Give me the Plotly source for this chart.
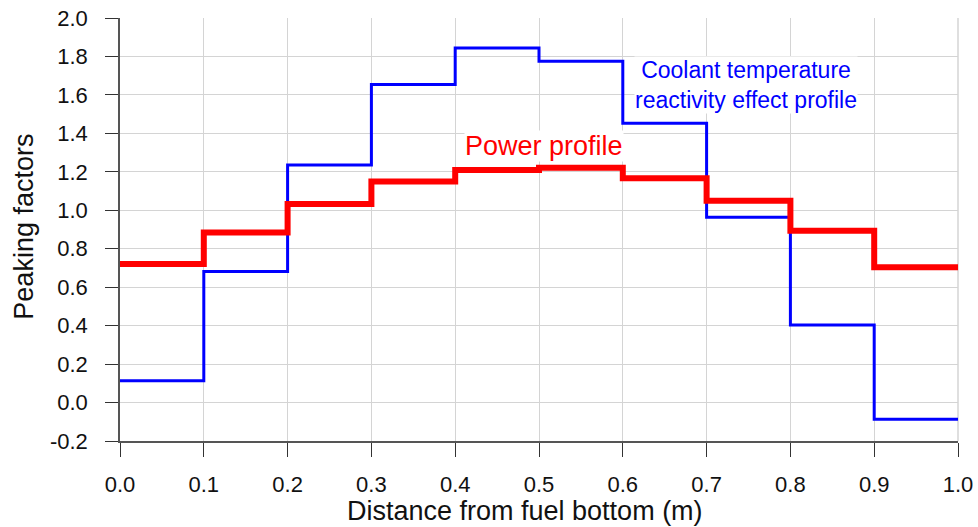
import plotly.graph_objects as go

# Axial node boundaries (m) and per-node peaking factors
node_edges = [0.0, 0.1, 0.2, 0.3, 0.4, 0.5, 0.6, 0.7, 0.8, 0.9, 1.0]
power_profile = [0.72, 0.884, 1.033, 1.149, 1.209, 1.221, 1.166, 1.05, 0.894, 0.704]
coolant_profile = [0.114, 0.681, 1.235, 1.654, 1.844, 1.775, 1.453, 0.964, 0.403, -0.087]

x_ticks = [0.0, 0.1, 0.2, 0.3, 0.4, 0.5, 0.6, 0.7, 0.8, 0.9, 1.0]
y_ticks = [-0.2, 0.0, 0.2, 0.4, 0.6, 0.8, 1.0, 1.2, 1.4, 1.6, 1.8, 2.0]

FONT = "Liberation Sans, Arial, sans-serif"

fig = go.Figure()
fig.add_trace(go.Scatter(
    x=node_edges, y=coolant_profile + [coolant_profile[-1]],
    mode="lines", line=dict(shape="hv", color="#0000ff", width=3),
    showlegend=False,
))
fig.add_trace(go.Scatter(
    x=node_edges, y=power_profile + [power_profile[-1]],
    mode="lines", line=dict(shape="hv", color="#ff0000", width=6),
    showlegend=False,
))

fig.add_annotation(
    x=0.5054, y=1.335, xref="x", yref="y", text="Power profile",
    showarrow=False, font=dict(family=FONT, size=27, color="#ff0000"),
    bgcolor="white", borderpad=0,
)
fig.add_annotation(
    x=0.7476, y=1.65, xref="x", yref="y",
    text="Coolant temperature<br>reactivity effect profile",
    showarrow=False, align="center",
    font=dict(family=FONT, size=23, color="#0000ff"),
    bgcolor="white", borderpad=0,
)

# Axis titles
fig.add_annotation(
    x=(525 - 120) / 838, y=-0.165, xref="paper", yref="paper",
    text="Distance from fuel bottom (m)", showarrow=False,
    font=dict(family=FONT, size=27, color="#111111"), yanchor="middle",
)
fig.add_annotation(
    x=(24 - 120) / 838, y=(441 - 226.5) / 423.3, xref="paper", yref="paper",
    text="Peaking factors", showarrow=False, textangle=-90,
    font=dict(family=FONT, size=27, color="#111111"),
    xanchor="center", yanchor="middle",
)

fig.update_xaxes(
    range=[0, 1.0], tickvals=x_ticks, ticktext=[f"{v:.1f}" for v in x_ticks],
    ticks="outside", ticklen=14, tickcolor="#333333", tickwidth=1,
    showgrid=True, gridcolor="#d4d4d4", gridwidth=1,
    showline=True, linecolor="#555555", linewidth=1.5,
    tickfont=dict(family=FONT, size=22, color="#111111"),
    ticklabelstandoff=9, zeroline=False, mirror=False, automargin=False,
)
fig.update_yaxes(
    range=[-0.2, 2.0], tickvals=y_ticks, ticktext=[f"{v:.1f}" for v in y_ticks],
    ticks="outside", ticklen=13, tickcolor="#333333", tickwidth=1,
    showgrid=True, gridcolor="#d4d4d4", gridwidth=1,
    showline=True, linecolor="#555555", linewidth=1.5,
    tickfont=dict(family=FONT, size=22, color="#111111"),
    ticklabelstandoff=13, zeroline=False, automargin=False,
)

fig.add_shape(type="line", xref="paper", yref="paper", x0=1, x1=1, y0=0, y1=1,
              line=dict(color="#d4d4d4", width=1.5), layer="below")

fig.update_layout(
    width=978, height=527,
    margin=dict(l=120, r=20, t=18, b=86),
    plot_bgcolor="white", paper_bgcolor="white",
    font=dict(family=FONT),
)

fig.write_html("out.html")
